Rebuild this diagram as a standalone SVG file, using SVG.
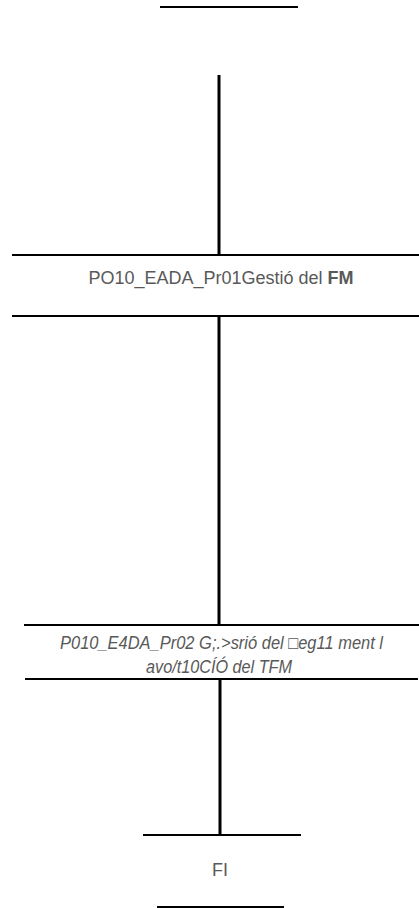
<svg xmlns="http://www.w3.org/2000/svg" width="419" height="908" viewBox="0 0 419 908">
<style>
.t{font-family:"Liberation Sans",Arial,sans-serif;fill:#595959;font-size:18px}
.h{stroke:#000;stroke-width:2;fill:none}
.v{stroke:#000;stroke-width:3;fill:none}
</style>
<rect width="419" height="908" fill="#fff"/>
<g id="connectors">
<line class="v" x1="219" y1="75" x2="219" y2="256"/>
<line class="v" x1="219" y1="316" x2="219" y2="625"/>
<line class="v" x1="220" y1="678" x2="220" y2="835"/>
</g>
<g id="start">
<line class="h" x1="160" y1="7" x2="298" y2="7"/>
</g>
<g id="node1">
<line class="h" x1="12" y1="255" x2="419" y2="255"/>
<text class="t" x="221" y="284" text-anchor="middle">PO10_EADA_Pr01Gestió del  <tspan font-weight="bold">FM</tspan></text>
<line class="h" x1="12" y1="316" x2="419" y2="316"/>
</g>
<g id="node2">
<line class="h" x1="24" y1="625" x2="419" y2="625"/>
<text class="t" x="60" y="649" font-style="italic" font-size="17" textLength="323" lengthAdjust="spacingAndGlyphs">P010_E4DA_Pr02 G;.&gt;srió del □eg11 ment l</text>
<text class="t" x="146" y="673" font-style="italic" font-size="16" textLength="146" lengthAdjust="spacingAndGlyphs">avo/t10CÍÓ del TFM</text>
<line class="h" x1="25" y1="679" x2="418" y2="679"/>
</g>
<g id="end">
<line class="h" x1="143" y1="835" x2="301" y2="835"/>
<text class="t" x="220" y="876" text-anchor="middle">FI</text>
<line class="h" x1="157" y1="907" x2="284" y2="907"/>
</g>
</svg>
